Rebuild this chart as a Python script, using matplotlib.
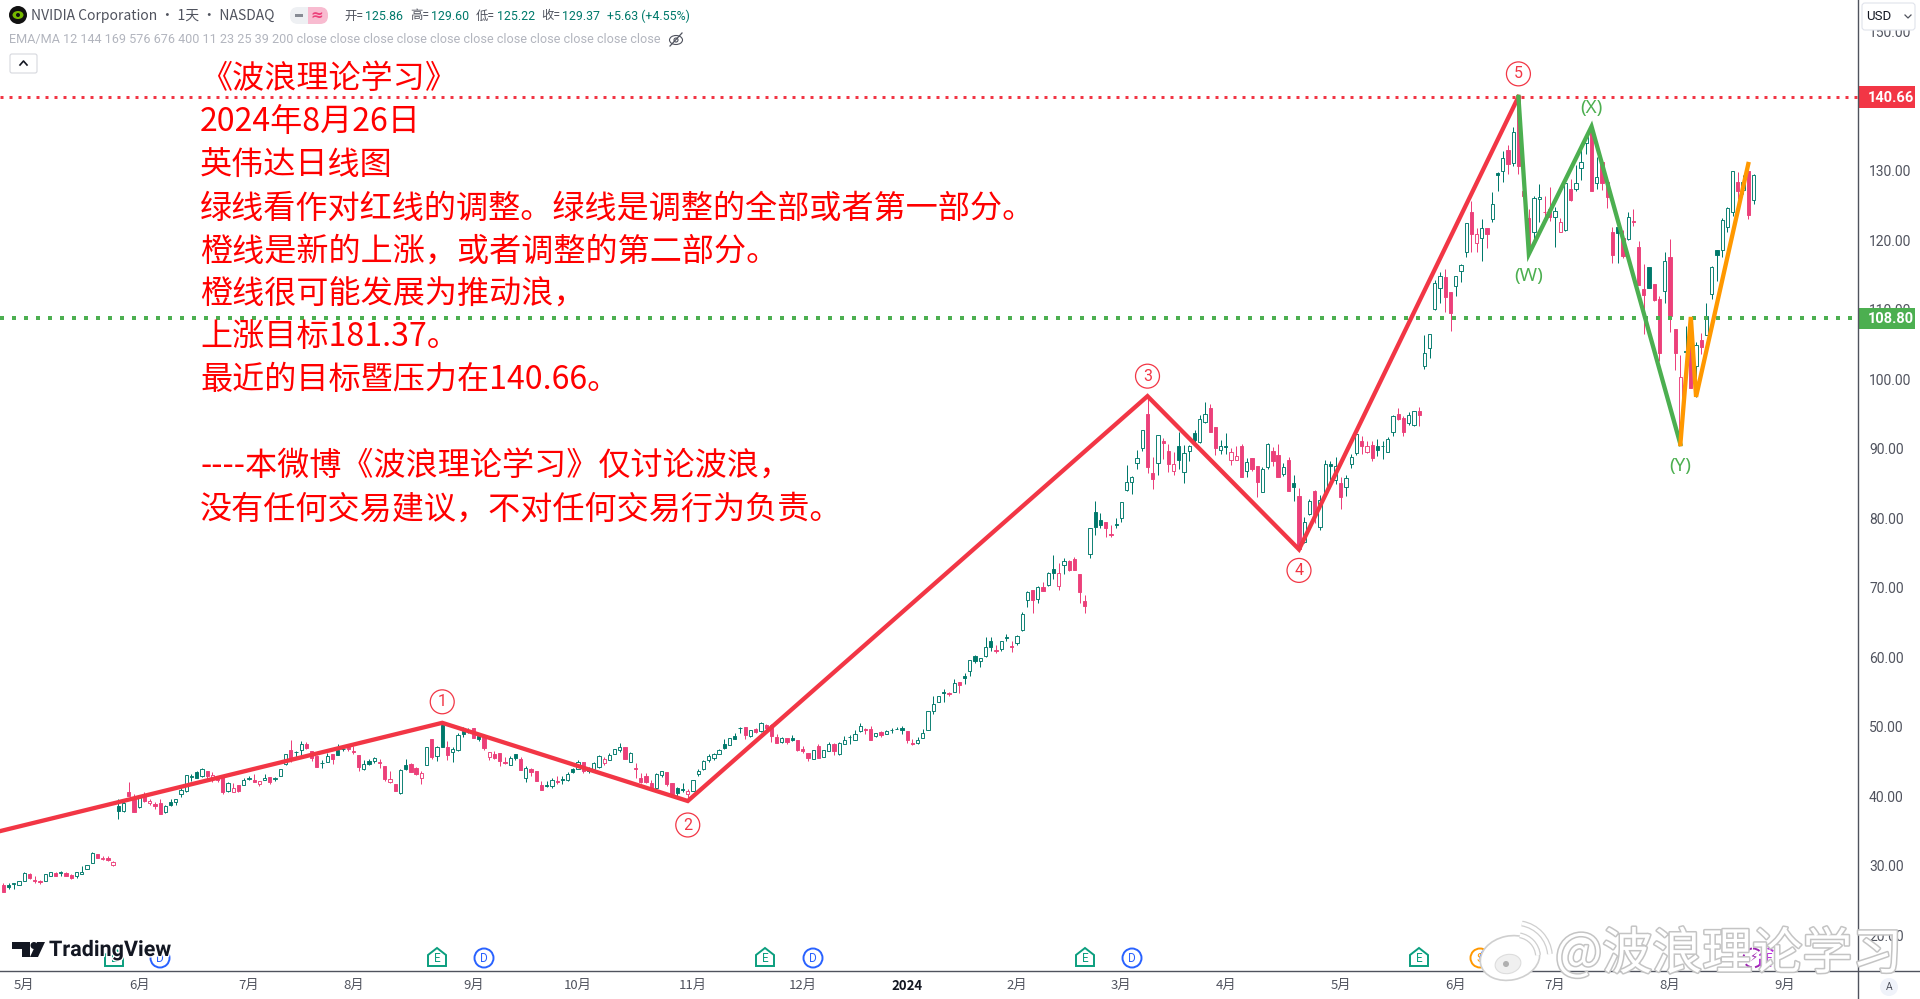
#! /usr/bin/env python
import numpy as np
import matplotlib
matplotlib.use("Agg")
import matplotlib.pyplot as plt
import matplotlib.patheffects as pe
from matplotlib.patches import Rectangle, Circle, Ellipse, Polygon, FancyBboxPatch, Arc

plt.rcParams['font.family'] = ['Noto Sans CJK SC', 'DejaVu Sans']

opens = [
    27.3, 27.2, 27.35, 27.3, 27.9, 28.85, 28.0, 27.8, 27.9, 28.6,
    29.0, 29.0, 29.0, 28.7, 28.6, 28.9, 29.6, 30.5, 31.7, 31.0,
    31.1, 30.1, 38.65, 37.9, 40.65, 39.7, 38.5, 40.2, 39.0, 38.9,
    39.0, 37.8, 39.2, 39.25, 40.3, 40.8, 42.8, 43.5, 43.0, 43.6,
    42.5, 42.7, 42.85, 40.8, 40.7, 41.65, 41.7, 42.5, 42.4, 41.85,
    42.3, 42.8, 42.55, 43.0, 44.65, 46.7, 46.35, 46.7, 47.55, 46.5,
    45.85, 44.85, 45.0, 46.1, 46.7, 46.85, 47.05, 46.6, 46.0, 43.9,
    45.1, 45.15, 44.95, 44.4, 42.1, 41.8, 40.5, 44.6, 44.7, 44.15,
    42.7, 44.5, 48.25, 45.85, 50.3, 47.05, 46.45, 46.7, 49.35, 49.55,
    49.8, 48.7, 48.6, 45.65, 46.1, 46.2, 45.0, 44.55, 46.05, 45.45,
    42.7, 43.9, 43.7, 41.65, 41.6, 41.55, 42.2, 42.5, 42.4, 43.9,
    44.0, 44.9, 44.05, 43.95, 44.2, 44.85, 45.3, 46.15, 46.7, 47.1,
    45.0, 44.1, 42.65, 42.95, 41.9, 41.15, 43.05, 43.5, 41.9, 41.15,
    41.05, 40.35, 40.8, 43.2, 43.9, 45.25, 45.5, 46.15, 47.55, 47.45,
    48.65, 49.85, 50.0, 48.65, 49.65, 49.35, 50.3, 50.3, 48.5, 47.8,
    48.35, 48.4, 48.1, 46.8, 46.2, 45.45, 47.2, 45.75, 46.6, 47.55,
    46.05, 47.6, 48.6, 48.15, 49.45, 49.7, 49.7, 48.7, 49.25, 49.05,
    49.55, 49.75, 49.85, 49.45, 47.7, 47.7, 48.45, 49.5, 52.35, 53.65,
    55.05, 54.85, 55.05, 56.5, 57.3, 58.0, 60.15, 59.55, 60.2, 62.3,
    61.1, 61.27, 62.9, 61.65, 62.05, 63.95, 68.2, 69.7, 68.35, 70.1,
    70.5, 72.7, 70.35, 73.25, 73.9, 74.2, 72.0, 68.1, 74.9, 80.9,
    79.8, 79.45, 77.7, 79.2, 80.0, 84.1, 85.3, 88.0, 90.15, 95.1,
    86.5, 88.05, 91.15, 89.7, 86.9, 90.45, 86.75, 89.75, 92.25, 91.0,
    93.9, 95.9, 93.15, 89.85, 90.4, 88.4, 88.4, 90.45, 86.9, 88.75,
    87.55, 83.85, 87.45, 89.7, 89.1, 86.4, 88.4, 85.05, 83.25, 76.65,
    80.6, 84.0, 78.8, 83.6, 87.85, 85.5, 85.15, 84.5, 87.8, 89.4,
    91.15, 89.5, 90.6, 90.45, 90.5, 89.6, 92.5, 95.0, 94.4, 93.7,
    93.45, 95.45, 102.0, 104.5, 110.15, 113.1, 114.7, 112.65, 113.5, 115.65,
    118.3, 124.05, 119.7, 120.3, 121.75, 123.05, 129.65, 130.0, 133.0, 131.1,
    140.6, 127.1, 123.2, 121.2, 126.0, 124.15, 124.6, 123.4, 121.2, 121.5,
    127.35, 127.4, 130.4, 134.0, 136.0, 128.2, 131.35, 128.45, 121.25, 121.9,
    120.3, 120.15, 122.8, 119.1, 112.95, 116.15, 113.7, 111.6, 112.8, 117.6,
    107.2, 92.0, 104.0, 107.85, 102.0, 105.7, 106.4, 112.3, 118.65, 118.65,
    122.0, 124.15, 128.45, 127.25, 130.0, 125.86,
]
highs = [
    27.5, 27.5, 27.5, 27.8, 29.1, 29.0, 28.5, 28.0, 28.8, 29.2,
    29.2, 29.3, 29.1, 28.85, 29.1, 30.0, 30.2, 32.0, 31.7, 31.5,
    31.4, 30.7, 39.6, 39.35, 42.1, 40.4, 40.1, 40.65, 39.6, 39.25,
    39.6, 38.8, 39.7, 39.6, 41.3, 43.05, 43.3, 43.7, 44.15, 43.6,
    43.5, 42.85, 42.85, 42.1, 41.9, 41.7, 42.6, 42.95, 43.3, 42.2,
    43.3, 42.85, 42.85, 44.0, 46.1, 48.1, 46.5, 48.0, 47.9, 46.5,
    46.0, 45.25, 46.2, 46.1, 47.55, 47.2, 47.2, 47.2, 46.0, 45.25,
    45.35, 45.65, 45.45, 44.4, 43.7, 41.8, 43.9, 45.45, 44.75, 44.3,
    43.6, 47.05, 48.25, 47.25, 50.55, 47.95, 47.15, 49.1, 49.95, 49.8,
    49.8, 49.0, 48.6, 46.45, 46.6, 46.2, 45.7, 45.8, 46.05, 45.65,
    44.4, 44.05, 43.7, 42.2, 42.2, 42.6, 42.95, 42.95, 43.55, 44.15,
    45.25, 44.9, 44.3, 44.9, 45.95, 45.65, 46.3, 46.9, 47.65, 47.15,
    46.35, 44.85, 43.35, 43.35, 42.35, 43.4, 43.7, 43.5, 41.9, 41.4,
    41.9, 41.05, 42.35, 43.95, 45.3, 46.05, 46.2, 46.9, 48.2, 48.4,
    49.2, 49.95, 50.0, 49.5, 49.85, 50.7, 50.5, 50.5, 48.95, 48.6,
    48.35, 48.85, 48.1, 47.25, 46.2, 46.65, 47.55, 46.7, 47.85, 47.65,
    47.8, 48.65, 48.85, 49.5, 50.55, 49.85, 50.15, 49.1, 49.4, 49.6,
    49.8, 50.05, 50.15, 49.45, 48.3, 48.5, 49.65, 52.3, 54.45, 54.45,
    55.45, 55.05, 56.85, 56.5, 57.7, 59.6, 60.4, 59.9, 62.9, 62.9,
    61.8, 62.4, 63.45, 62.3, 63.25, 66.6, 69.55, 69.7, 70.3, 70.9,
    72.3, 74.7, 73.55, 74.25, 74.05, 74.4, 72.0, 69.0, 78.6, 82.5,
    80.75, 79.45, 79.05, 80.0, 82.3, 87.7, 86.1, 89.85, 92.8, 97.6,
    88.8, 91.95, 91.55, 90.7, 89.55, 92.5, 90.6, 90.6, 92.75, 94.9,
    96.7, 96.5, 93.15, 91.3, 92.35, 90.1, 90.45, 90.7, 88.65, 88.75,
    87.55, 87.35, 90.8, 90.35, 90.7, 88.05, 88.8, 86.25, 84.35, 80.15,
    82.75, 84.1, 83.4, 88.4, 88.2, 88.8, 86.0, 86.25, 89.3, 92.25,
    91.85, 91.2, 91.2, 91.4, 91.2, 91.7, 94.9, 95.85, 94.75, 95.3,
    95.4, 96.0, 106.4, 106.5, 114.3, 115.5, 115.85, 112.65, 114.95, 116.55,
    122.45, 125.7, 121.75, 123.05, 121.75, 126.95, 129.85, 132.9, 133.75, 136.3,
    140.66, 130.4, 124.5, 126.45, 128.1, 126.4, 127.75, 124.75, 123.3, 128.3,
    128.85, 130.85, 133.25, 135.2, 136.35, 132.0, 131.35, 129.1, 121.9, 122.2,
    121.5, 124.05, 124.6, 119.9, 116.55, 116.25, 113.7, 112.0, 118.3, 120.15,
    107.2, 103.5, 107.7, 109.05, 105.45, 106.65, 111.05, 116.3, 118.65, 123.2,
    124.85, 130.0, 129.8, 129.4, 130.85, 129.6,
]
lows = [
    26.2, 26.7, 26.7, 27.3, 27.9, 28.1, 27.5, 27.4, 27.9, 28.5,
    28.6, 28.6, 28.5, 28.1, 28.3, 28.9, 29.6, 30.4, 31.1, 30.9,
    30.7, 30.0, 36.8, 37.7, 40.0, 37.8, 38.4, 39.2, 38.8, 38.25,
    37.5, 37.6, 38.7, 38.8, 39.9, 40.7, 42.2, 42.7, 42.85, 42.4,
    42.1, 42.1, 40.3, 40.6, 40.65, 40.7, 41.65, 42.4, 42.1, 41.55,
    42.3, 41.85, 42.2, 42.95, 44.6, 44.9, 45.4, 45.9, 46.9, 45.1,
    44.3, 44.1, 45.0, 44.7, 45.9, 46.55, 46.6, 46.1, 43.6, 43.8,
    44.55, 44.75, 44.05, 42.2, 42.0, 40.8, 40.4, 43.85, 43.5, 43.15,
    41.85, 44.5, 45.45, 45.15, 47.15, 45.2, 45.0, 46.55, 48.6, 49.1,
    48.4, 48.0, 46.7, 45.25, 45.35, 44.4, 44.65, 44.5, 45.25, 43.8,
    42.1, 43.0, 42.2, 40.95, 41.35, 41.2, 41.8, 41.85, 42.2, 43.4,
    43.9, 43.4, 43.4, 43.9, 44.15, 44.5, 45.25, 46.15, 46.45, 45.45,
    44.95, 42.6, 42.0, 41.9, 41.15, 41.0, 42.75, 41.5, 40.05, 39.95,
    40.7, 39.4, 40.75, 43.0, 43.85, 45.0, 45.25, 46.1, 46.9, 47.45,
    48.25, 49.1, 48.3, 48.5, 49.15, 49.3, 49.1, 47.9, 47.75, 47.7,
    47.55, 47.95, 46.6, 46.2, 45.15, 45.4, 45.6, 45.7, 46.55, 45.95,
    45.95, 47.55, 47.6, 48.1, 49.3, 49.0, 48.15, 48.6, 48.6, 49.0,
    49.2, 49.65, 49.0, 47.75, 47.4, 47.6, 48.45, 49.5, 51.8, 53.65,
    53.65, 54.45, 55.05, 54.95, 56.25, 57.4, 59.25, 58.7, 60.1, 61.0,
    60.7, 61.0, 62.4, 60.85, 61.8, 63.85, 67.3, 66.45, 67.8, 69.6,
    70.35, 71.35, 69.7, 72.0, 72.5, 72.6, 67.9, 66.45, 74.35, 77.6,
    78.7, 77.3, 77.3, 78.6, 79.55, 83.9, 83.5, 87.1, 89.75, 86.6,
    84.25, 86.25, 88.55, 86.75, 86.25, 87.05, 85.15, 88.3, 90.45, 90.9,
    93.7, 92.5, 89.15, 89.3, 89.3, 87.7, 88.4, 85.9, 86.0, 86.9,
    83.15, 83.75, 87.05, 87.55, 86.0, 86.1, 84.0, 82.55, 75.55, 76.5,
    80.5, 79.3, 78.35, 83.6, 85.5, 85.0, 81.4, 83.25, 87.2, 89.15,
    89.25, 89.35, 88.3, 89.0, 88.6, 89.5, 91.8, 94.15, 91.9, 93.5,
    93.35, 93.35, 101.55, 103.15, 110.0, 111.05, 109.75, 107.0, 112.05, 114.05,
    117.6, 118.4, 118.4, 117.1, 118.9, 122.7, 127.15, 128.45, 129.55, 130.75,
    129.55, 124.5, 118.15, 120.1, 122.7, 123.2, 122.85, 119.0, 121.2, 121.4,
    125.7, 127.1, 128.7, 132.45, 127.15, 127.35, 127.25, 124.7, 116.7, 116.7,
    117.55, 120.0, 122.1, 113.6, 106.5, 113.1, 111.35, 102.7, 110.95, 106.9,
    101.35, 90.8, 100.65, 98.8, 97.5, 103.6, 106.4, 111.6, 114.2, 117.6,
    121.25, 123.5, 126.0, 126.7, 123.1, 125.22,
]
closes = [
    26.3, 27.0, 27.5, 27.8, 29.0, 28.2, 27.9, 27.7, 28.8, 29.2,
    28.6, 29.1, 28.6, 28.3, 29.1, 29.2, 30.2, 31.9, 31.2, 31.2,
    30.8, 30.6, 37.9, 39.1, 40.05, 37.8, 39.9, 39.3, 39.35, 38.6,
    37.5, 38.6, 38.8, 39.6, 41.0, 43.05, 42.9, 42.7, 44.0, 42.95,
    43.05, 42.3, 40.7, 42.0, 41.2, 40.8, 42.4, 42.65, 42.1, 42.2,
    42.6, 42.1, 42.65, 44.0, 46.1, 45.25, 46.45, 47.5, 47.0, 45.6,
    44.3, 44.75, 45.85, 45.35, 45.9, 46.8, 46.85, 46.45, 44.3, 44.65,
    44.65, 45.55, 44.75, 42.45, 42.45, 40.8, 43.8, 43.95, 43.5, 43.3,
    43.35, 47.05, 45.7, 47.15, 47.15, 45.95, 46.9, 48.85, 49.0, 49.3,
    48.45, 48.2, 47.0, 46.35, 45.5, 45.05, 44.85, 45.5, 45.5, 43.8,
    44.15, 43.55, 42.2, 40.95, 41.45, 42.35, 42.05, 42.4, 43.3, 43.55,
    44.9, 43.65, 43.7, 44.8, 45.8, 45.45, 45.95, 46.9, 47.05, 45.45,
    46.3, 44.0, 42.15, 42.05, 41.25, 43.2, 43.7, 41.8, 40.35, 40.45,
    41.0, 40.85, 42.35, 43.65, 45.15, 45.8, 46.05, 46.75, 46.95, 48.4,
    48.3, 49.8, 48.85, 49.5, 49.3, 50.6, 49.85, 48.7, 47.75, 48.4,
    47.85, 48.1, 46.7, 46.6, 45.6, 46.65, 45.6, 46.65, 47.5, 46.55,
    47.7, 48.1, 48.55, 48.95, 50.1, 49.5, 48.15, 49.1, 48.85, 49.45,
    49.5, 49.65, 49.5, 48.15, 47.5, 48.1, 49.1, 52.3, 53.25, 54.45,
    54.95, 54.7, 56.4, 56.1, 57.1, 59.6, 59.55, 59.9, 61.45, 61.55,
    61.0, 62.4, 62.75, 61.55, 63.1, 66.2, 69.4, 68.2, 70.15, 69.6,
    72.1, 72.2, 72.1, 73.95, 72.6, 72.6, 69.4, 67.4, 78.6, 78.8,
    79.0, 78.7, 77.6, 79.1, 82.3, 85.2, 85.9, 88.65, 92.75, 87.35,
    85.7, 91.95, 90.9, 87.85, 87.85, 88.4, 89.4, 90.45, 91.3, 94.25,
    95.05, 92.5, 90.2, 90.45, 90.35, 89.5, 89.0, 85.9, 88.1, 87.1,
    85.3, 87.05, 90.7, 88.2, 86.0, 87.45, 84.0, 84.6, 75.55, 79.55,
    82.45, 80.7, 82.65, 87.85, 87.6, 87.5, 83.05, 85.8, 88.8, 92.15,
    90.5, 90.45, 88.75, 89.85, 90.4, 91.4, 94.75, 94.3, 92.5, 94.85,
    95.4, 94.95, 103.75, 106.5, 113.85, 114.9, 111.8, 109.6, 114.95, 116.45,
    122.45, 121.0, 120.9, 121.75, 120.9, 125.2, 129.4, 131.8, 131.0, 135.55,
    130.75, 126.45, 119.35, 126.05, 126.3, 124.05, 123.4, 124.3, 122.65, 128.2,
    125.8, 128.25, 131.35, 134.95, 127.15, 129.2, 128.3, 126.3, 117.9, 121.05,
    117.75, 123.4, 122.6, 113.6, 112.15, 113.1, 111.45, 103.75, 117.05, 109.15,
    103.75, 100.4, 104.15, 98.8, 105.0, 104.7, 109.1, 116.25, 117.9, 122.95,
    124.7, 130.0, 127.15, 128.45, 123.65, 129.37,
]
# g = close above previous close, r = below
tones = ("rggggrrrgg" "rgrrggggrr" "rrggrrgrrr" "rggggggggr" "rrrgrrggrr"
         "grgggrggrr" "rggrggrrrg" "ggrrrrggrr" "rgrggrgggg" "rgrrrrrggr"
         "grrrggrggg" "grgggrgggr" "grrrrggrrg" "grgggggggg" "ggrgrgrrrg"
         "rgrrrgrggr" "gggggrrgrg" "gggrrggggg" "grgrgggggg" "rggrgggrgr"
         "ggrgrrrrgg" "grrggggggr" "rgrrrggggg" "grrggrrrgr" "rggrrgrgrg"
         "grggggrggg" "rrrggggrrg" "grggggrrgg" "grrgrgggrg" "rrrggrrgrg"
         "rgggrgrrrg" "rgrrrgrrgr" "rrgrgrgggg" "ggrgrg")

# wave lines: bar index and price of every turning point
red_wave_x = [-1, 84, 131, 219, 248, 290]
red_wave_y = [34.95, 50.6, 39.35, 97.6, 75.55, 140.66]
green_wave_x = [290, 292, 304, 321]
green_wave_y = [140.66, 118.05, 136.4, 90.7]
orange_wave_x = [321, 323, 324, 334]
orange_wave_y = [90.7, 109.0, 97.5, 131.0]

resistance = 140.66
support = 108.80

price_ticks = [20, 30, 40, 50, 60, 70, 80, 90, 100, 110, 120, 130, 140, 150]
month_bars = [4, 26, 47, 67, 90, 110, 132, 153, 173, 194, 214, 234, 256, 278, 297, 319, 341]
month_labels = ["5月", "6月", "7月", "8月", "9月", "10月", "11月", "12月", "2024", "2月",
                "3月", "4月", "5月", "6月", "7月", "8月", "9月"]

note_lines = ["《波浪理论学习》", "2024年8月26日", "英伟达日线图",
              "绿线看作对红线的调整。绿线是调整的全部或者第一部分。",
              "橙线是新的上涨，或者调整的第二部分。",
              "橙线很可能发展为推动浪，", "上涨目标181.37。", "最近的目标暨压力在140.66。",
              "", "----本微博《波浪理论学习》仅讨论波浪，",
              "没有任何交易建议，不对任何交易行为负责。"]

GREEN = "#00796B"
PINK = "#EC407A"
RED = "#F23645"
WAVE_GREEN = "#4CAF50"
ORANGE = "#FF9800"
AXIS = "#50535E"
TEAL = "#0B9E7E"
BLUE = "#2962FF"
PURPLE = "#9C27B0"

W, H = 1920, 999
fig = plt.figure(figsize=(W / 100, H / 100), dpi=100, facecolor="white")
ax = fig.add_axes([0, (H - 971) / H, 1858 / W, 971 / H])
ax.set_xlim(-0.65, 355.0)
ax.set_ylim(14.89, 154.6)

o = np.array(opens)
h = np.array(highs)
l = np.array(lows)
c = np.array(closes)
xs = np.arange(len(o))
cols = [GREEN if t == "g" else PINK for t in tones]
faces = ["white" if cl > op else col for op, cl, col in zip(o, c, cols)]

ax.vlines(xs, l, h, colors=cols, linewidth=0.72, zorder=2)
ax.bar(xs, np.abs(c - o), bottom=np.minimum(o, c), width=0.62, color=faces,
       edgecolor=cols, linewidth=0.66, zorder=3)

ax.plot(red_wave_x, red_wave_y, color=RED, lw=3.1, solid_joinstyle="miter", zorder=5)
ax.plot(green_wave_x, green_wave_y, color=WAVE_GREEN, lw=3.1, solid_joinstyle="miter", zorder=5)
ax.plot(orange_wave_x, orange_wave_y, color=ORANGE, lw=3.1, solid_joinstyle="miter", zorder=5)

ax.axhline(resistance, color=RED, lw=2.16, ls=(0, (1, 2)), zorder=4)
ax.axhline(support, color=WAVE_GREEN, lw=2.88, ls=(0, (1, 2)), zorder=4)

# wave labels, offsets in pixels from the turning point
for k, dy in zip(range(1, 6), [21, -24, 20, -21, 23]):
    ax.annotate(str(k), (red_wave_x[k], red_wave_y[k]), xytext=(0, dy), textcoords="offset pixels",
                ha="center", va="center", color=RED, fontsize=11.5, family="Roboto",
                bbox=dict(boxstyle="circle,pad=0.28", fc="white", ec=RED, lw=0.9), zorder=6)
for name, i, dy in [("(W)", 1, -22), ("(X)", 2, 18), ("(Y)", 3, -22)]:
    ax.annotate(name, (green_wave_x[i], green_wave_y[i]), xytext=(0, dy), textcoords="offset pixels",
                ha="center", va="center", color=WAVE_GREEN, fontsize=13.5, family="Noto Sans", zorder=6)

for s in ["top", "left", "right", "bottom"]:
    ax.spines[s].set_visible(False)
ax.yaxis.tick_right()
ax.set_yticks(price_ticks)
ax.set_yticklabels(["%.2f" % p for p in price_ticks], fontsize=10, color=AXIS, family="Roboto")
ax.tick_params(axis="y", length=0, pad=8)
ax.set_xticks(month_bars)
ax.set_xticklabels(month_labels, fontsize=9.5, color=AXIS)
ax.tick_params(axis="x", length=0, pad=6)
for lab in ax.get_xticklabels():
    if lab.get_text() == "2024":
        lab.set_fontweight("bold")
        lab.set_color("#131722")

# price tags on the scale
tag_w = 57 / 1858
for price, col, txt in [(resistance, RED, "140.66"), (support, WAVE_GREEN, "108.80")]:
    ax.add_patch(Rectangle((1.0, price - 1.55), tag_w, 3.05, transform=ax.get_yaxis_transform(),
                           facecolor=col, edgecolor="none", clip_on=False, zorder=7))
    ax.text(1.0 + 10 / 1858, price - 0.1, txt, transform=ax.get_yaxis_transform(), ha="left", va="center",
            color="white", fontsize=10.5, fontweight="bold", family="Roboto", zorder=8)

# overlay in pixel units for the chart furniture
ui = fig.add_axes([0, 0, 1, 1], facecolor="none")
ui.set_xlim(0, W)
ui.set_ylim(H, 0)
ui.axis("off")
ui.plot([1858, 1858], [0, H], color=AXIS, lw=1)
ui.plot([0, W], [971, 971], color=AXIS, lw=1)

# header
ui.add_patch(Circle((18, 15), 9, fc="#111111", ec="none"))
ui.add_patch(Ellipse((18, 15), 11, 8, fc="#76B900", ec="none"))
ui.add_patch(Circle((18, 15), 2, fc="#111111", ec="none"))
ui.text(31, 16, "NVIDIA Corporation · 1天 · NASDAQ", fontsize=10, color=AXIS, va="center")
ui.add_patch(FancyBboxPatch((290, 7), 32, 17, boxstyle="round,pad=0,rounding_size=8", fc="#EEF0F3", ec="none"))
ui.add_patch(FancyBboxPatch((308, 7), 20, 17, boxstyle="round,pad=0,rounding_size=8", fc="#F8BBD0", ec="none"))
ui.add_patch(Rectangle((308, 7), 8, 17, fc="#F8BBD0", ec="none"))
ui.add_patch(Rectangle((295, 14), 8, 3, fc="#878B94", ec="none"))
ui.text(317, 15.5, "≈", fontsize=11, color=PINK, ha="center", va="center", family="DejaVu Sans", fontweight="bold")
for x, s, col in [(344, "开=", AXIS), (365, "125.86", GREEN), (410, "高=", AXIS), (431, "129.60", GREEN),
                  (476, "低=", AXIS), (497, "125.22", GREEN), (541, "收=", AXIS), (562, "129.37", GREEN),
                  (607, "+5.63 (+4.55%)", GREEN)]:
    ui.text(x, 16, s, fontsize=8.9, color=col, va="center", family=["Roboto", "Noto Sans CJK SC"])
ui.text(9, 40, "EMA/MA 12 144 169 576 676 400 11 23 25 39 200" + " close" * 11, fontsize=9.1,
        color="#B2B5BE", va="center", family="Roboto")
ui.add_patch(Ellipse((676, 40), 13, 9, fc="none", ec="#50535E", lw=0.8))
ui.add_patch(Circle((676, 40), 2, fc="none", ec="#50535E", lw=0.8))
ui.plot([670, 682], [46, 33], color="#50535E", lw=0.9)
ui.add_patch(FancyBboxPatch((10, 54), 27, 19, boxstyle="round,pad=0,rounding_size=2", fc="white", ec="#D6D8DE", lw=0.8))
ui.plot([20, 23.5, 27], [65, 61, 65], color="#131722", lw=1.2)

# USD box
ui.add_patch(FancyBboxPatch((1862, 3), 53, 27, boxstyle="round,pad=0,rounding_size=3", fc="white", ec="#E0E3EB", lw=0.8, zorder=9))
ui.text(1866, 16, "USD", fontsize=9.5, color="#131722", va="center", family="Roboto", zorder=10)
ui.plot([1905, 1908, 1911], [15, 18, 15], color=AXIS, lw=0.9, zorder=10)

# note text
note_y = [79, 122, 166, 209, 252, 294, 337, 380, 423, 467, 510]
for y, line in zip(note_y, note_lines):
    ui.text(200, y, line, fontsize=23.1, color="#FF0000", ha="left", va="center", zorder=6)

# event flags along the bottom
def flag_e(x, col=TEAL, ls="-"):
    pts = [(x - 9, 966), (x - 9, 955), (x, 948), (x + 9, 955), (x + 9, 966)]
    ui.add_patch(Polygon(pts, closed=True, fc="white", ec=col, lw=1.4, ls=ls))
    ui.text(x, 958, "E", fontsize=8.5, color=col, ha="center", va="center", family="Roboto")

def flag_round(x, s, col=BLUE, ls="-"):
    ui.add_patch(Circle((x, 958), 9.5, fc="white", ec=col, lw=1.4, ls=ls))
    ui.text(x, 958, s, fontsize=8.5, color=col, ha="center", va="center", family=["Roboto", "DejaVu Sans"])

flag_e(114)
flag_round(160, "D")
flag_e(437)
flag_round(484, "D")
flag_e(765)
flag_round(813, "D")
flag_e(1085)
flag_round(1132, "D")
flag_e(1419)
flag_round(1480, "S", ORANGE)
flag_round(1490, "D")
flag_round(1753, "⚡", PURPLE, "--")
flag_e(1769, "#B82BD9", "--")

# TradingView logo
ui.add_patch(Polygon([(12, 942), (30, 942), (30, 957), (22, 957), (22, 949), (12, 949)], closed=True, fc="#131722", ec="none"), )
ui.add_patch(Circle((34, 945.5), 3.5, fc="#131722", ec="none"))
ui.add_patch(Polygon([(30, 957), (38, 957), (45, 942), (37, 942)], closed=True, fc="#131722", ec="none"))
ui.text(49, 950, "TradingView", fontsize=15.5, color="#131722", va="center", ha="left", family="Roboto", fontweight="bold",
        path_effects=[pe.withStroke(linewidth=2, foreground="white")])

# A badge
ui.add_patch(Circle((1889, 987), 9, fc="#F0F3FA", ec="none"))
ui.text(1889, 987, "A", fontsize=7.5, color=AXIS, ha="center", va="center", family="Roboto")

# weibo watermark
stroke = [pe.withStroke(linewidth=2.2, foreground="#C4C4C4")]
ui.add_patch(Ellipse((1510, 958), 60, 44, angle=-12, fc="white", ec="#CFCFCF", lw=1.2, zorder=11))
ui.add_patch(Ellipse((1508, 964), 26, 19, angle=-12, fc="#F0F0F0", ec="#DDDDDD", lw=0.8, zorder=12))
ui.add_patch(Circle((1506, 964), 3, fc="#B0B0B0", ec="none", zorder=13))
for r, lw_out in [(22, 4.2), (34, 4.2)]:
    ui.add_patch(Arc((1516, 957), 2 * r, 2 * r, theta1=-80, theta2=-5, ec="#CFCFCF", lw=lw_out, zorder=12))
    ui.add_patch(Arc((1516, 957), 2 * r, 2 * r, theta1=-80, theta2=-5, ec="white", lw=lw_out - 1.8, zorder=13))
ui.text(1555, 955, "@波浪理论学习", fontsize=36, color="white", ha="left", va="center",
        path_effects=stroke, zorder=11)

fig.savefig("out.png", dpi=100)
